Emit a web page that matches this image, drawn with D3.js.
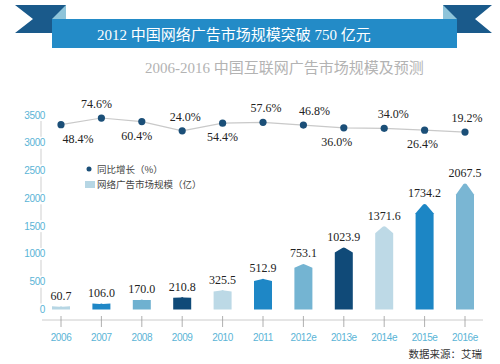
<!DOCTYPE html>
<html>
<head>
<meta charset="utf-8">
<script src="https://cdn.jsdelivr.net/npm/d3@7"></script>
<style>
  html, body { margin: 0; padding: 0; background: #fff; }
  svg { display: block; }
</style>
</head>
<body>
<div id="chart"></div>
<script>
// ---------- data ----------
const categories = ["2006","2007","2008","2009","2010","2011","2012e","2013e","2014e","2015e","2016e"];
const marketSize = [60.7,106.0,170.0,210.8,325.5,512.9,753.1,1023.9,1371.6,1734.2,2067.5];
const growthRate = [48.4,74.6,60.4,24.0,54.4,57.6,46.8,36.0,34.0,26.4,19.2];
const yTicks = [0,500,1000,1500,2000,2500,3000,3500];
const titleText = "2012 中国网络广告市场规模突破 750 亿元";
const subtitleText = "2006-2016 中国互联网广告市场规模及预测";
const legendLabels = ["同比增长（%）", "网络广告市场规模（亿）"];
const sourceText = "数据来源：艾瑞";

// ---------- layout / style ----------
const W = 500, H = 364;
const barColors = ["#b6d6e4","#1f87c6","#6fb1d0","#0f4a78","#bcd9e6","#1e87c6","#74b4d2","#104a78","#bdd9e6","#1c86c5","#7ab6d3"];
const labelBelow = [true,false,true,false,true,false,false,true,false,true,false];
const labelShift = [17,-5,-5,3,0,3,11,-7,9,-2,2];
const serif = "'Liberation Serif','Noto Sans CJK SC',serif";
const cjk = "'Noto Sans CJK SC','Liberation Sans',sans-serif";
const axisBlue = "#5ab4d6";

const svg = d3.select("#chart").append("svg").attr("width", W).attr("height", H);

// ---------- ribbon title ----------
const rib = svg.append("g");
rib.append("path").attr("d", "M15,5 L66,5 L66,33 L15,33 L33,19 Z").attr("fill", "#1a5a8b");
rib.append("path").attr("d", "M443,5 L492,5 L475,19 L492,33 L443,33 Z").attr("fill", "#1a5a8b");
rib.append("path").attr("d", "M52,19 L66,5 L66,19 Z").attr("fill", "#8ec4da");
rib.append("path").attr("d", "M443,5 L457,19 L443,19 Z").attr("fill", "#8ec4da");
rib.append("rect").attr("x", 52).attr("y", 19).attr("width", 405).attr("height", 29).attr("fill", "#238bc7");
svg.append("text").attr("x", 97).attr("y", 40).attr("fill", "#fff")
  .style("font-family", serif).style("font-size", "15px").text(titleText);
svg.append("text").attr("x", 145).attr("y", 73).attr("fill", "#b3b3b3")
  .style("font-family", serif).style("font-size", "15px").text(subtitleText);

// ---------- scales ----------
const x = d3.scalePoint().domain(categories).range([61, 465]);
const y = d3.scaleLinear().domain([0, 3500]).range([309.5, 115]);
const yG = d3.scaleLinear().domain([0, 100]).range([136.9, 111.6]);
const barW = 18;

// ---------- y axis ----------
const yAxis = svg.append("g");
yTicks.forEach((t, i) => {
  yAxis.append("text").attr("x", 45).attr("y", y(t) + 3.5).attr("text-anchor", "end")
    .attr("fill", axisBlue).style("font-family", "'Liberation Sans',sans-serif")
    .style("font-size", "10px").style("letter-spacing", "-0.4px").text(t);
  if (i < yTicks.length - 1) {
    yAxis.append("line").attr("x1", 41).attr("x2", 41)
      .attr("y1", y(t) - 6).attr("y2", y(yTicks[i + 1]) + 6)
      .attr("stroke", "#cfcfcf").attr("stroke-width", 1);
  }
});

// ---------- x axis ----------
svg.append("line").attr("x1", 42).attr("x2", 483).attr("y1", 320).attr("y2", 320)
  .attr("stroke", "#cccccc").attr("stroke-width", 1);
const xg = svg.append("g");
categories.forEach(c => {
  xg.append("line").attr("x1", x(c)).attr("x2", x(c)).attr("y1", 316).attr("y2", 327)
    .attr("stroke", "#9a9a9a").attr("stroke-width", 0.8);
  xg.append("text").attr("x", x(c)).attr("y", 341).attr("text-anchor", "middle")
    .attr("fill", axisBlue).style("font-family", "'Liberation Sans',sans-serif")
    .style("font-size", "10px").style("letter-spacing", "-0.4px").text(c);
});

// ---------- bars ----------
function barPath(cx, v) {
  const x0 = cx - barW / 2, x1 = cx + barW / 2, yb = y(0), ys = y(v);
  const yt = ys - 0.1 * (yb - ys);
  return `M${x0},${yb} L${x0},${ys} L${cx - 1.5},${yt + 1} Q${cx},${yt} ${cx + 1.5},${yt + 1} L${x1},${ys} L${x1},${yb} Z`;
}
svg.append("g").selectAll("path").data(marketSize).join("path")
  .attr("d", (d, i) => barPath(x(categories[i]), d))
  .attr("fill", (d, i) => barColors[i]);
svg.append("g").selectAll("text").data(marketSize).join("text")
  .attr("x", (d, i) => x(categories[i]))
  .attr("y", d => { const ys = y(d); return ys - 0.1 * (y(0) - ys) - 6; })
  .attr("text-anchor", "middle").attr("fill", "#222")
  .style("font-family", serif).style("font-size", "12px")
  .text(d => d.toFixed(1));

// ---------- growth line ----------
const line = d3.line().x((d, i) => x(categories[i])).y(d => yG(d));
svg.append("path").datum(growthRate).attr("d", line)
  .attr("fill", "none").attr("stroke", "#c9c9c9").attr("stroke-width", 1.2);
svg.append("g").selectAll("circle").data(growthRate).join("circle")
  .attr("cx", (d, i) => x(categories[i])).attr("cy", d => yG(d)).attr("r", 3.6)
  .attr("fill", "#1b4f78");
svg.append("g").selectAll("text").data(growthRate).join("text")
  .attr("x", (d, i) => x(categories[i]) + labelShift[i])
  .attr("y", (d, i) => labelBelow[i] ? yG(d) + 18 : yG(d) - 10)
  .attr("text-anchor", "middle").attr("fill", "#222")
  .style("font-family", serif).style("font-size", "12px")
  .text(d => d.toFixed(1) + "%");

// ---------- legend ----------
const lg = svg.append("g");
lg.append("circle").attr("cx", 89).attr("cy", 169).attr("r", 2.5).attr("fill", "#1b4f78");
lg.append("text").attr("x", 97).attr("y", 172.5).attr("fill", "#444")
  .style("font-family", cjk).style("font-size", "9.5px").text(legendLabels[0]);
lg.append("rect").attr("x", 85).attr("y", 181).attr("width", 10).attr("height", 7).attr("fill", "#b6d6e4");
lg.append("text").attr("x", 97).attr("y", 188).attr("fill", "#444")
  .style("font-family", cjk).style("font-size", "9.5px").text(legendLabels[1]);

// ---------- source ----------
svg.append("text").attr("x", 482).attr("y", 358).attr("text-anchor", "end").attr("fill", "#333")
  .style("font-family", cjk).style("font-size", "10.5px").text(sourceText);
</script>
</body>
</html>
